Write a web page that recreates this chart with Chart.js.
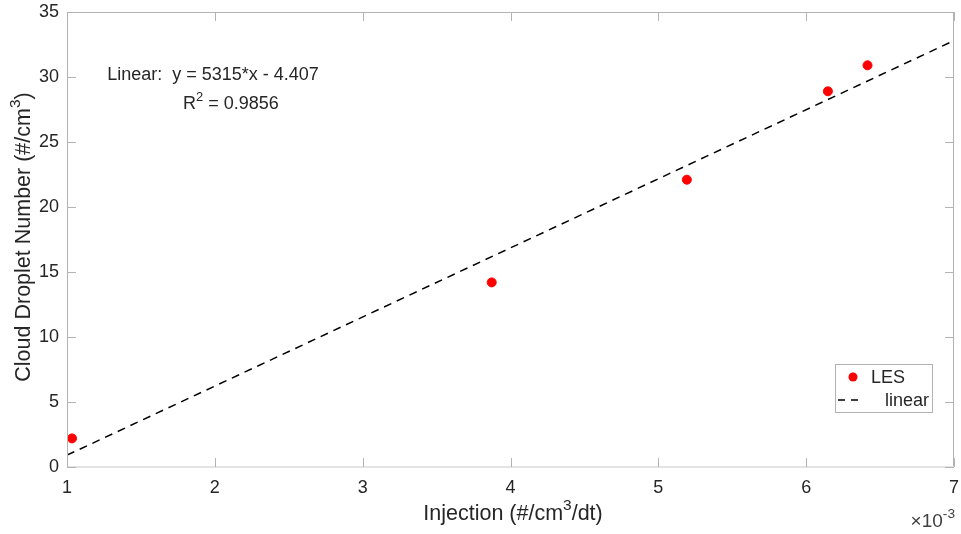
<!DOCTYPE html>
<html>
<head>
<meta charset="utf-8">
<script src="https://cdn.jsdelivr.net/npm/chart.js@4.4.1/dist/chart.umd.min.js"></script>
<style>
  html, body { margin: 0; padding: 0; background: #fff; }
  #wrap { width: 961px; height: 534px; }
</style>
</head>
<body>
<div id="wrap"><canvas id="fitChart" width="961" height="534"></canvas></div>
<script>
// LES points (injection in 1e-3 #/cm3/dt, droplet number #/cm3)
const lesX = [1.034, 3.873, 5.193, 6.147, 6.415];
const lesY = [2.2, 14.2, 22.1, 28.9, 30.9];

// linear fit endpoints
const fitX = [1, 7];
const fitY = [0.91, 32.8];

const xTicks = [1, 2, 3, 4, 5, 6, 7];
const yTicks = [0, 5, 10, 15, 20, 25, 30, 35];

const FONT = 'Liberation Sans, Arial, Helvetica, sans-serif';
const TEXT = '#262626';
const AXIS = '#b3b3b3';

// text with a superscript part, drawn on the canvas
function supText(ctx, parts, x, y, size, align) {
  let total = 0;
  parts.forEach(p => {
    ctx.font = (p.sup ? size * 0.72 : size) + 'px ' + FONT;
    p.w = ctx.measureText(p.t).width;
    total += p.w;
  });
  let cx = align === 'center' ? x - total / 2 : (align === 'right' ? x - total : x);
  ctx.textAlign = 'left';
  ctx.textBaseline = 'alphabetic';
  parts.forEach(p => {
    ctx.font = (p.sup ? size * 0.72 : size) + 'px ' + FONT;
    ctx.fillText(p.t, cx, p.sup ? y - size * 0.45 : y);
    cx += p.w;
  });
}

const matlabBox = {
  id: 'matlabBox',
  afterDatasetsDraw(chart) {
    const {ctx, chartArea: a, scales: {x, y}} = chart;
    ctx.save();
    // box
    ctx.strokeStyle = AXIS;
    ctx.lineWidth = 1;
    ctx.beginPath();
    ctx.moveTo(a.left + 0.5, a.bottom);
    ctx.lineTo(a.left + 0.5, a.top + 0.5);
    ctx.lineTo(a.right - 0.5, a.top + 0.5);
    ctx.lineTo(a.right - 0.5, a.bottom);
    ctx.stroke();
    ctx.strokeStyle = '#e3e3e3';
    ctx.lineWidth = 2;
    ctx.beginPath();
    ctx.moveTo(a.left, a.bottom);
    ctx.lineTo(a.right, a.bottom);
    ctx.stroke();
    // inward ticks
    ctx.strokeStyle = AXIS;
    ctx.lineWidth = 1;
    ctx.beginPath();
    xTicks.forEach(v => {
      const px = Math.round(x.getPixelForValue(v)) + 0.5;
      ctx.moveTo(px, a.bottom); ctx.lineTo(px, a.bottom - 9);
      ctx.moveTo(px, a.top); ctx.lineTo(px, a.top + 9);
    });
    yTicks.forEach(v => {
      const py = Math.round(y.getPixelForValue(v)) + 0.5;
      ctx.moveTo(a.left, py); ctx.lineTo(a.left + 9, py);
      ctx.moveTo(a.right, py); ctx.lineTo(a.right - 9, py);
    });
    ctx.stroke();

    ctx.fillStyle = TEXT;
    // axis titles
    supText(ctx, [{t: 'Injection (#/cm'}, {t: '3', sup: true}, {t: '/dt)'}], 513, 520, 21.5, 'center');
    ctx.save();
    ctx.translate(30, 237);
    ctx.rotate(-Math.PI / 2);
    supText(ctx, [{t: 'Cloud Droplet Number (#/cm'}, {t: '3', sup: true}, {t: ')'}], 0, 0, 21.5, 'center');
    ctx.restore();

    // fit annotation
    supText(ctx, [{t: 'Linear:  y = 5315*x - 4.407'}], 213, 80, 18, 'center');
    supText(ctx, [{t: 'R'}, {t: '2', sup: true}, {t: ' = 0.9856'}], 231, 109, 18, 'center');
    // exponent label
    ctx.fillStyle = '#404040';
    supText(ctx, [{t: '\u00d710'}, {t: '-3', sup: true}], 955, 527, 19, 'right');

    // legend
    const lx = 835, ly = 364, lw = 97, lh = 48;
    ctx.fillStyle = '#fff';
    ctx.fillRect(lx, ly, lw, lh);
    ctx.strokeStyle = '#b3b3b3';
    ctx.lineWidth = 1;
    ctx.strokeRect(lx + 0.5, ly + 0.5, lw, lh);
    ctx.fillStyle = 'red';
    ctx.beginPath();
    ctx.arc(853, 377, 4.5, 0, Math.PI * 2);
    ctx.fill();
    ctx.strokeStyle = '#000';
    ctx.lineWidth = 1.5;
    ctx.setLineDash([7, 6]);
    ctx.beginPath();
    ctx.moveTo(838, 400); ctx.lineTo(860, 400);
    ctx.stroke();
    ctx.setLineDash([]);
    ctx.fillStyle = TEXT;
    ctx.font = '18px ' + FONT;
    ctx.textAlign = 'left';
    ctx.textBaseline = 'middle';
    ctx.fillText('LES', 871, 378);
    ctx.fillText('linear', 885, 401);
    ctx.restore();
  }
};

const ctx = document.getElementById('fitChart').getContext('2d');
new Chart(ctx, {
  type: 'scatter',
  data: {
    datasets: [
      {
        label: 'LES',
        data: lesX.map((v, i) => ({x: v, y: lesY[i]})),
        backgroundColor: 'red',
        borderColor: 'red',
        pointRadius: 4.5,
        pointHoverRadius: 4.5,
        order: 1
      },
      {
        label: 'linear',
        type: 'line',
        data: fitX.map((v, i) => ({x: v, y: fitY[i]})),
        borderColor: '#000',
        borderWidth: 1.5,
        borderDash: [8, 6],
        pointRadius: 0,
        fill: false,
        order: 2
      }
    ]
  },
  options: {
    responsive: false,
    animation: false,
    events: [],
    layout: { padding: { top: 12, right: 7, left: 0, bottom: 0 } },
    plugins: { legend: { display: false }, tooltip: { enabled: false } },
    scales: {
      x: {
        type: 'linear', min: 1, max: 7,
        afterBuildTicks: s => { s.ticks = xTicks.map(v => ({value: v})); },
        afterFit: s => { s.height = 67; s.paddingLeft = 0; s.paddingRight = 0; },
        grid: { display: false, drawTicks: false },
        border: { display: false },
        ticks: { color: TEXT, font: { family: FONT, size: 18 }, padding: 10, maxRotation: 0 }
      },
      y: {
        type: 'linear', min: 0, max: 35,
        afterBuildTicks: s => { s.ticks = yTicks.map(v => ({value: v})); },
        afterFit: s => { s.width = 67; s.paddingTop = 0; s.paddingBottom = 0; },
        grid: { display: false, drawTicks: false },
        border: { display: false },
        ticks: { color: TEXT, font: { family: FONT, size: 18 }, padding: 8 }
      }
    }
  },
  plugins: [matlabBox]
});
</script>
</body>
</html>
